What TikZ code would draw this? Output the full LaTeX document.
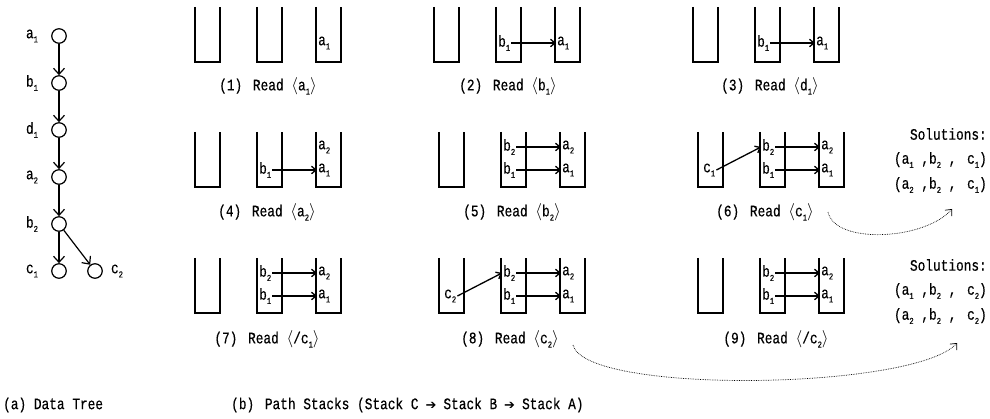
\documentclass[tikz,border=0pt]{standalone}
\usepackage{fontspec}
\usetikzlibrary{arrows.meta}
\newfontfamily\rf[FakeStretch=0.8,FakeBold=0.4]{Liberation Mono}
\newfontfamily\djv{DejaVu Sans}
\newcommand\sbx[1]{\raisebox{-0.5ex}{\fontsize{9}{9}\selectfont #1}}
\newcommand\myla{$\langle$}
\newcommand\myra{$\rangle$}
\newcommand\xsp{\hspace{3pt}}
\newcommand\capar{\hspace{7pt}{\djv\fontsize{13}{14}\selectfont ➔}\hspace{7pt}}
\newcommand\mkstack[2]{\draw[stk] (#1,#2) -- ++(0,55) -- ++(25,0) -- ++(0,-55);}
\tikzset{
  txt/.style={font={\rf\fontsize{16}{17}\selectfont}, inner sep=1pt},
  stk/.style={line width=1.4pt},
  tn/.style={circle, draw, line width=1.2pt, minimum size=14.5pt, inner sep=0pt},
  tarr/.style={line width=1.2pt, -{Straight Barb[length=6pt,width=11pt,line width=1.2pt]}},
  sarr/.style={line width=1.3pt, -{Straight Barb[length=4.5pt,width=7.5pt,line width=1.3pt]}},
  darr/.style={line width=0.7pt, densely dotted, -{Straight Barb[length=5pt,width=9pt,line width=0.7pt]}}
}
\begin{document}
\begin{tikzpicture}[x=1pt,y=-1pt]
\useasboundingbox (0,0) rectangle (990,419);
% ---------- tree ----------
\node[tn] (ta1) at (59,36) {};
\node[tn] (tb1) at (59,83) {};
\node[tn] (td1) at (59,130) {};
\node[tn] (ta2) at (59,177) {};
\node[tn] (tb2) at (59,224) {};
\node[tn] (tc1) at (59,271) {};
\node[tn] (tc2) at (95,271) {};
\node[txt] (la1) at (32,36) {a\sbx1};
\node[txt] (lb1) at (32,83) {b\sbx1};
\node[txt] (ld1) at (32,130) {d\sbx1};
\node[txt] (la2) at (32,177) {a\sbx2};
\node[txt] (lb2) at (32,224) {b\sbx2};
\node[txt] (lc1) at (32,271) {c\sbx1};
\node[txt] (lc2) at (117,271) {c\sbx2};
\draw[tarr] (ta1) -- (tb1);
\draw[tarr] (tb1) -- (td1);
\draw[tarr] (td1) -- (ta2);
\draw[tarr] (ta2) -- (tb2);
\draw[tarr] (tb2) -- (tc1);
\draw[tarr] (tb2) -- (tc2);
% ---------- row 1 ----------
\mkstack{195}{7}\mkstack{257}{7}\mkstack{316}{7}
\node[txt,anchor=west] (p1a1) at (317,43) {a\sbx1};
\node[txt] (cap1) at (268,86) {(1)\xsp{} Read \myla a\sbx1\myra};

\mkstack{434}{7}\mkstack{496}{7}\mkstack{555}{7}
\node[txt,anchor=west] (p2b1) at (497,43) {b\sbx1};
\node[txt,anchor=west] (p2a1) at (556,43) {a\sbx1};
\draw[sarr] (p2b1) -- (p2a1);
\node[txt] (cap2) at (508,86) {(2)\xsp{} Read \myla b\sbx1\myra};

\mkstack{693}{7}\mkstack{755}{7}\mkstack{814}{7}
\node[txt,anchor=west] (p3b1) at (756,43) {b\sbx1};
\node[txt,anchor=west] (p3a1) at (815,43) {a\sbx1};
\draw[sarr] (p3b1) -- (p3a1);
\node[txt] (cap3) at (770,86) {(3)\xsp{} Read \myla d\sbx1\myra};
% ---------- row 2 ----------
\mkstack{195}{132}\mkstack{257}{132}\mkstack{316}{132}
\node[txt,anchor=west] (p4b1) at (258,170) {b\sbx1};
\node[txt,anchor=west] (p4a2) at (317,147) {a\sbx2};
\node[txt,anchor=west] (p4a1) at (317,170) {a\sbx1};
\draw[sarr] (p4b1) -- (p4a1);
\node[txt] (cap4) at (267,212) {(4)\xsp{} Read \myla a\sbx2\myra};

\mkstack{439}{132}\mkstack{501}{132}\mkstack{560}{132}
\node[txt,anchor=west] (p5b2) at (502,147) {b\sbx2};
\node[txt,anchor=west] (p5b1) at (502,170) {b\sbx1};
\node[txt,anchor=west] (p5a2) at (561,147) {a\sbx2};
\node[txt,anchor=west] (p5a1) at (561,170) {a\sbx1};
\draw[sarr] (p5b2) -- (p5a2);
\draw[sarr] (p5b1) -- (p5a1);
\node[txt] (cap5) at (512,212) {(5)\xsp{} Read \myla b\sbx2\myra};

\mkstack{698}{132}\mkstack{760}{132}\mkstack{819}{132}
\node[txt,anchor=west] (p6c1) at (702,170) {c\sbx1};
\node[txt,anchor=west] (p6b2) at (761,147) {b\sbx2};
\node[txt,anchor=west] (p6b1) at (761,170) {b\sbx1};
\node[txt,anchor=west] (p6a2) at (820,147) {a\sbx2};
\node[txt,anchor=west] (p6a1) at (820,170) {a\sbx1};
\draw[sarr] (p6c1.east) -- (p6b2.west);
\draw[sarr] (p6b2) -- (p6a2);
\draw[sarr] (p6b1) -- (p6a1);
\node[txt] (cap6) at (765,212) {(6)\xsp{} Read \myla c\sbx1\myra};
% ---------- row 3 ----------
\mkstack{195}{258}\mkstack{257}{258}\mkstack{316}{258}
\node[txt,anchor=west] (p7b2) at (258,273) {b\sbx2};
\node[txt,anchor=west] (p7b1) at (258,296) {b\sbx1};
\node[txt,anchor=west] (p7a2) at (317,273) {a\sbx2};
\node[txt,anchor=west] (p7a1) at (317,296) {a\sbx1};
\draw[sarr] (p7b2) -- (p7a2);
\draw[sarr] (p7b1) -- (p7a1);
\node[txt] (cap7) at (267,339) {(7)\xsp{} Read \myla/c\sbx1\myra};

\mkstack{439}{258}\mkstack{501}{258}\mkstack{560}{258}
\node[txt,anchor=west] (p8c2) at (443,296) {c\sbx2};
\node[txt,anchor=west] (p8b2) at (502,273) {b\sbx2};
\node[txt,anchor=west] (p8b1) at (502,296) {b\sbx1};
\node[txt,anchor=west] (p8a2) at (561,273) {a\sbx2};
\node[txt,anchor=west] (p8a1) at (561,296) {a\sbx1};
\draw[sarr] (p8c2.east) -- (p8b2.west);
\draw[sarr] (p8b2) -- (p8a2);
\draw[sarr] (p8b1) -- (p8a1);
\node[txt] (cap8) at (510,339) {(8)\xsp{} Read \myla c\sbx2\myra};

\mkstack{698}{258}\mkstack{760}{258}\mkstack{819}{258}
\node[txt,anchor=west] (p9b2) at (761,273) {b\sbx2};
\node[txt,anchor=west] (p9b1) at (761,296) {b\sbx1};
\node[txt,anchor=west] (p9a2) at (820,273) {a\sbx2};
\node[txt,anchor=west] (p9a1) at (820,296) {a\sbx1};
\draw[sarr] (p9b2) -- (p9a2);
\draw[sarr] (p9b1) -- (p9a1);
\node[txt] (cap9) at (776,339) {(9)\xsp{} Read \myla/c\sbx2\myra};
% ---------- solutions ----------
\node[txt,anchor=east] (s1h) at (988,134) {Solutions:};
\node[txt,anchor=east] (s1a) at (988,160) {(a\sbx1 ,b\sbx2 ,\xsp{} c\sbx1)};
\node[txt,anchor=east] (s1b) at (988,185) {(a\sbx2 ,b\sbx2 ,\xsp{} c\sbx1)};
\node[txt,anchor=east] (s2h) at (988,265) {Solutions:};
\node[txt,anchor=east] (s2a) at (988,291) {(a\sbx1 ,b\sbx2 ,\xsp{} c\sbx2)};
\node[txt,anchor=east] (s2b) at (988,316) {(a\sbx2 ,b\sbx2 ,\xsp{} c\sbx2)};
\coordinate (d1s) at (828,212);
\coordinate (d1e) at (952,209);
\coordinate (d2s) at (573,345);
\coordinate (d2e) at (957,343);
\draw[darr] (d1s) .. controls (835,245) and (925,240) .. (d1e);
\draw[darr] (d2s) .. controls (585,395) and (915,390) .. (d2e);
% ---------- captions ----------
\node[txt,anchor=west] (capa) at (2,405) {(a) Data Tree};
\node[txt,anchor=west] (capb) at (230,405) {(b)\xsp{} Path Stacks (Stack C\capar{}Stack B\capar{}Stack A)};
\end{tikzpicture}
\end{document}
